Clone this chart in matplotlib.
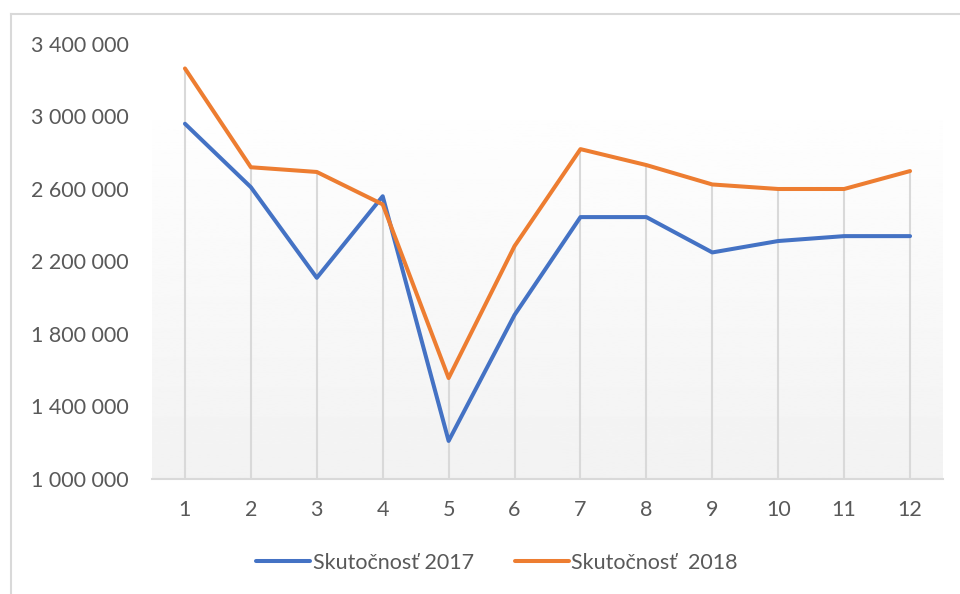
import matplotlib
matplotlib.use("Agg")
import matplotlib.pyplot as plt
from matplotlib.lines import Line2D
from matplotlib.ticker import FuncFormatter
import numpy as np

# data
months = [1, 2, 3, 4, 5, 6, 7, 8, 9, 10, 11, 12]
skut_2017 = [2960000, 2610000, 2110000, 2560000, 1210000, 1905000,
             2445000, 2445000, 2250000, 2313000, 2340000, 2340000]
skut_2018 = [3265000, 2720000, 2694000, 2515000, 1557000, 2285000,
             2820000, 2732000, 2625000, 2600000, 2600000, 2699000]
y_ticks = [1000000, 1400000, 1800000, 2200000, 2600000, 3000000, 3400000]
labels = ['Skutočnosť 2017', 'Skutočnosť  2018']

BLUE = '#4472C4'
ORANGE = '#ED7D31'
GRID = '#D9D9D9'
TEXT = '#595959'

plt.rcParams['font.family'] = ['Lato', 'DejaVu Sans']
plt.rcParams['font.size'] = 15.5

W, H = 960, 594
fig = plt.figure(figsize=(W / 100, H / 100), dpi=100)
ax = fig.add_axes([152 / W, (H - 479) / H, 791 / W, (479 - 44) / H])
ax.set_xlim(0.5, 12.5)
ax.set_ylim(1000000, 3400000)

# plot area gradient (white at top to light gray at bottom)
grad = np.linspace(1.0, 0.949, 256).reshape(-1, 1)
ax.imshow(grad, cmap='gray', vmin=0, vmax=1, aspect='auto',
          extent=[0.5, 12.5, 1000000, 3146000], origin='upper', zorder=0)

# drop lines from the higher series down to the axis
top = np.maximum(skut_2017, skut_2018)
ax.vlines(months, 1000000, top, color=GRID, lw=1.5, zorder=1)

ax.plot(months, skut_2017, color=BLUE, lw=2.9, zorder=3,
        solid_joinstyle='round', solid_capstyle='round')
ax.plot(months, skut_2018, color=ORANGE, lw=2.9, zorder=3,
        solid_joinstyle='round', solid_capstyle='round')

for s in ['top', 'right', 'left']:
    ax.spines[s].set_visible(False)
ax.spines['bottom'].set_color(GRID)
ax.spines['bottom'].set_linewidth(1.5)

ax.set_xticks(months)
ax.set_yticks(y_ticks)
ax.yaxis.set_major_formatter(FuncFormatter(lambda v, p: f'{int(v):,}'.replace(',', ' ')))
ax.tick_params(axis='both', length=0, colors=TEXT)
ax.tick_params(axis='y', pad=17)
ax.tick_params(axis='x', pad=15)

handles = [Line2D([], [], color=BLUE, lw=2.9, solid_capstyle='round'),
           Line2D([], [], color=ORANGE, lw=2.9, solid_capstyle='round')]
leg = fig.legend(handles, labels, loc='center', bbox_to_anchor=(497 / W, 1 - 563 / H),
                 ncol=2, frameon=False, handlelength=2.5, handletextpad=0.12,
                 columnspacing=1.9)
for t in leg.get_texts():
    t.set_color(TEXT)

# chart border (top and left visible in the crop)
fig.add_artist(Line2D([11 / W, 11 / W], [0, 1 - 14 / H], transform=fig.transFigure,
                      color=GRID, lw=1.5))
fig.add_artist(Line2D([11 / W, 1], [1 - 14 / H, 1 - 14 / H], transform=fig.transFigure,
                      color=GRID, lw=1.5))

fig.savefig('out.png', dpi=100)
